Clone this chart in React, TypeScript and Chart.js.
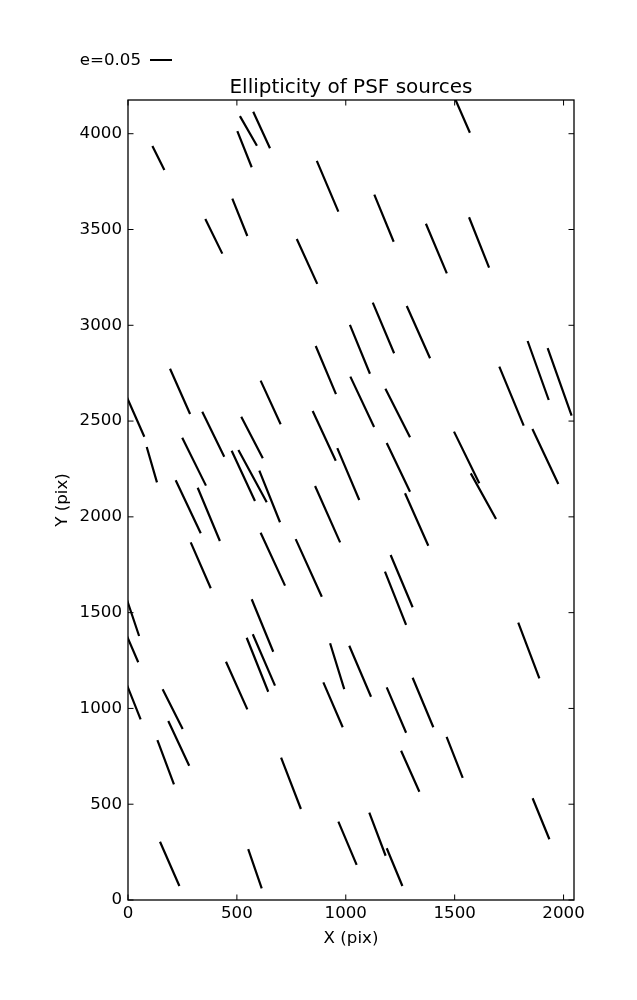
import React, { useEffect, useRef } from "react";
import { Chart, registerables } from "chart.js";

Chart.register(...registerables);

const chartTitle = "Ellipticity of PSF sources";
const xAxisLabel = "X (pix)";
const yAxisLabel = "Y (pix)";
const keyLabel = "e=0.05";

const xRange = [0, 2048];
const yRange = [0, 4176];
const xTicks = [0, 500, 1000, 1500, 2000];
const yTicks = [0, 500, 1000, 1500, 2000, 2500, 3000, 3500, 4000];

// whisker segments (data units): start and end points
const xStart = [112, 514, 575, 502, 1497, 355, 479, 867, 1131, 775, 1368, 1566, 1124, 1280, 1019, 862, 1835, 1927, 1705, -10, 193, 341, 609, 520, 1021, 1182, 848, 1857, 1497, 1574, 86, 249, 476, 507, 603, 961, 1188, 1272, 859, 219, 320, 288, 609, 770, 1206, 1180, 1792, -10, -10, 568, 545, 573, 450, 159, -10, 928, 1016, 897, 1188, 1307, 185, 135, 703, 1254, 1463, 1858, 966, 1108, 1188, 147, 552];
const yStart = [3936, 4092, 4115, 4014, 4195, 3555, 3661, 3858, 3682, 3450, 3530, 3564, 3118, 3101, 3002, 2892, 2918, 2881, 2784, 2637, 2773, 2549, 2711, 2523, 2732, 2669, 2553, 2459, 2445, 2227, 2365, 2413, 2345, 2349, 2241, 2359, 2386, 2123, 2161, 2191, 2152, 1867, 1917, 1884, 1801, 1714, 1448, 1585, 1391, 1570, 1369, 1387, 1244, 1100, 1137, 1340, 1327, 1136, 1110, 1160, 934, 835, 743, 779, 852, 531, 409, 456, 270, 304, 266];
const xEnd = [167, 592, 652, 568, 1570, 433, 548, 966, 1220, 869, 1464, 1658, 1222, 1387, 1111, 955, 1932, 2037, 1817, 75, 285, 442, 701, 619, 1130, 1295, 954, 1976, 1613, 1690, 133, 358, 583, 637, 698, 1062, 1295, 1379, 974, 334, 422, 380, 721, 890, 1307, 1277, 1889, 51, 47, 667, 644, 675, 548, 251, 58, 993, 1116, 986, 1277, 1402, 281, 211, 794, 1338, 1537, 1935, 1050, 1183, 1260, 236, 614];
const yEnd = [3811, 3937, 3924, 3825, 4005, 3374, 3466, 3593, 3436, 3216, 3271, 3301, 2854, 2828, 2747, 2641, 2610, 2528, 2476, 2418, 2537, 2314, 2483, 2306, 2469, 2415, 2293, 2172, 2175, 1989, 2180, 2163, 2083, 2076, 1972, 2088, 2131, 1849, 1867, 1914, 1874, 1627, 1641, 1583, 1528, 1436, 1157, 1378, 1241, 1296, 1087, 1119, 995, 893, 943, 1101, 1061, 902, 873, 902, 701, 604, 475, 565, 638, 317, 183, 231, 73, 73, 61];

const FONT = "'DejaVu Sans', sans-serif";
const TICK_LEN = 5.5;

function buildSegments() {
  const pts: { x: number; y: number | null }[] = [];
  for (let i = 0; i < xStart.length; i++) {
    pts.push({ x: xStart[i], y: yStart[i] });
    pts.push({ x: xEnd[i], y: yEnd[i] });
    pts.push({ x: xEnd[i], y: null });
  }
  return pts;
}

const frameAndKey = {
  id: "frameAndKey",
  afterDraw(chart: any) {
    const { ctx, chartArea } = chart;
    const { left, right, top, bottom } = chartArea;
    const xs = chart.scales.x;
    const ys = chart.scales.y;
    ctx.save();
    ctx.strokeStyle = "#000";
    ctx.lineWidth = 1;
    ctx.beginPath();
    for (const v of xTicks) {
      const px = xs.getPixelForValue(v);
      ctx.moveTo(px, bottom);
      ctx.lineTo(px, bottom - TICK_LEN);
      ctx.moveTo(px, top);
      ctx.lineTo(px, top + TICK_LEN);
    }
    for (const v of yTicks) {
      const py = ys.getPixelForValue(v);
      ctx.moveTo(left, py);
      ctx.lineTo(left + TICK_LEN, py);
      ctx.moveTo(right, py);
      ctx.lineTo(right - TICK_LEN, py);
    }
    ctx.stroke();
    ctx.lineWidth = 1.3;
    ctx.strokeRect(left, top, right - left, bottom - top);

    // key
    ctx.fillStyle = "#000";
    ctx.font = `16.67px ${FONT}`;
    ctx.textAlign = "right";
    ctx.textBaseline = "middle";
    ctx.fillText(keyLabel, 141, 61);
    ctx.lineWidth = 2;
    ctx.beginPath();
    ctx.moveTo(150, 60);
    ctx.lineTo(172, 60);
    ctx.stroke();
    ctx.restore();
  },
};

export default function App() {
  const ref = useRef<HTMLCanvasElement | null>(null);
  useEffect(() => {
    if (!ref.current) return;
    const chart = new Chart(ref.current, {
      type: "scatter",
      data: {
        datasets: [
          {
            data: buildSegments() as any,
            showLine: true,
            spanGaps: false,
            borderColor: "#000",
            borderWidth: 2.2,
            pointRadius: 0,
            pointHoverRadius: 0,
            clip: 0 as any,
          },
        ],
      },
      options: {
        animation: false,
        responsive: false,
        events: [],
        layout: { padding: { top: 0, right: 63, bottom: 0, left: 0 } },
        plugins: {
          legend: { display: false },
          tooltip: { enabled: false },
          title: {
            display: true,
            text: chartTitle,
            fullSize: false,
            color: "#000",
            font: { family: FONT, size: 20, weight: "normal" as any, lineHeight: 1.0 },
            padding: { top: 78, bottom: 2 },
          },
        },
        scales: {
          x: {
            type: "linear",
            min: xRange[0],
            max: xRange[1],
            afterFit: (s: any) => {
              s.height = 100;
            },
            afterBuildTicks: (s: any) => {
              s.ticks = xTicks.map((v) => ({ value: v }));
            },
            grid: { display: false, drawTicks: false },
            border: { display: false },
            ticks: {
              color: "#000",
              padding: 4,
              maxRotation: 0,
              font: { family: FONT, size: 16.67 },
              callback: (v: any) => String(v),
            },
            title: {
              display: true,
              text: xAxisLabel,
              color: "#000",
              font: { family: FONT, size: 16.67, lineHeight: 1.2 },
              padding: { top: 0, bottom: 51 },
            },
          },
          y: {
            type: "linear",
            min: yRange[0],
            max: yRange[1],
            afterFit: (s: any) => {
              s.width = 128;
            },
            afterBuildTicks: (s: any) => {
              s.ticks = yTicks.map((v) => ({ value: v }));
            },
            grid: { display: false, drawTicks: false },
            border: { display: false },
            ticks: {
              color: "#000",
              padding: 6,
              font: { family: FONT, size: 16.67 },
              callback: (v: any) => String(v),
            },
            title: {
              display: true,
              text: yAxisLabel,
              color: "#000",
              font: { family: FONT, size: 16.67, lineHeight: 1.2 },
              padding: { top: 53, bottom: 0 },
            },
          },
        },
      },
      plugins: [frameAndKey],
    });
    return () => chart.destroy();
  }, []);
  return (
    <canvas
      ref={ref}
      width={637}
      height={1000}
      style={{ position: "absolute", left: 0, top: 0, background: "#fff" }}
    />
  );
}
